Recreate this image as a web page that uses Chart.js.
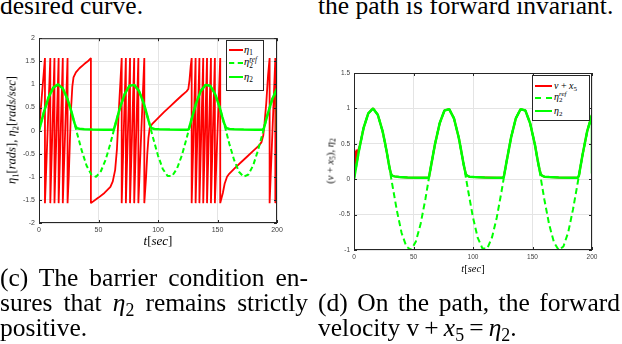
<!DOCTYPE html>
<html>
<head>
<meta charset="utf-8">
<title>eta plots</title>
<script src="https://cdn.jsdelivr.net/npm/chart.js@4.4.1/dist/chart.umd.min.js"></script>
<style>
    body { margin: 0; background: #fff; }
    #page { position: relative; width: 622px; height: 344px; overflow: hidden; font-family: "Liberation Serif", "Times New Roman", serif; color: #000; }
    #page canvas { position: absolute; }
    sub { font-size: 0.7em; vertical-align: -0.3em; line-height: 0; }
    .cap { position: absolute; font-size: 25.5px; line-height: 26px; white-space: nowrap; }
    .just { white-space: normal; text-align: justify; text-align-last: justify; }
    .lbl { position: absolute; white-space: nowrap; font-style: italic; transform: translate(-50%, -50%); }
    .lbl.rot { transform: translate(-50%, -50%) rotate(-90deg); }
    .up { font-style: normal; }
    .legend { position: absolute; background: #fff; border: 1px solid #262626; box-sizing: border-box; font-style: italic; }
    .legend .smp { position: absolute; height: 0; }
    .legend .txt { position: absolute; white-space: nowrap; line-height: 1; transform: translateY(-50%); }
    .ss { display: inline-block; vertical-align: middle; line-height: 0.85; font-size: 0.7em; }
    .ss span { display: block; }
</style>
</head>
<body>
<div id="page">
    <div class="cap" style="left:0;top:-7px">desired curve.</div>
    <div class="cap" style="left:318px;top:-7px">the path is forward invariant.</div>

    <canvas id="plotC" width="290" height="210" style="left:0;top:30px"></canvas>
    <canvas id="plotD" width="290" height="200" style="left:315px;top:65px"></canvas>

    <!-- axis titles -->
    <div class="lbl rot" style="left:12px;top:130px;font-size:12.5px">η<sub class="up">1</sub><span class="up">[</span>rads<span class="up">],</span> η<sub class="up">2</sub><span class="up">[</span>rads/sec<span class="up">]</span></div>
    <div class="lbl" style="left:158px;top:241px;font-size:13px">t<span class="up">[</span>sec<span class="up">]</span></div>
    <div class="lbl rot" style="left:330px;top:161px;font-size:10.5px"><span class="up">(</span>v <span class="up">+</span> x<sub class="up">5</sub><span class="up">),</span> η<sub class="up">2</sub></div>
    <div class="lbl" style="left:473px;top:268px;font-size:10.5px">t<span class="up">[</span>sec<span class="up">]</span></div>

    <!-- legends -->
    <div class="legend" style="left:226px;top:40px;width:38px;height:51px;font-size:10.5px">
        <div class="smp" style="left:2px;top:8px;width:14px;border-top:2px solid #ff0000"></div>
        <div class="txt" style="left:17px;top:9px">η<sub class="up">1</sub></div>
        <div class="smp" style="left:2px;top:21px;width:14px;border-top:2px dashed #00ff00"></div>
        <div class="txt" style="left:17px;top:22px">η<span class="ss"><span>ref</span><span class="up">2</span></span></div>
        <div class="smp" style="left:2px;top:35px;width:14px;border-top:2.5px solid #00ff00"></div>
        <div class="txt" style="left:17px;top:36px">η<sub class="up">2</sub></div>
    </div>
    <div class="legend" style="left:532px;top:75px;width:58px;height:46px;font-size:10px">
        <div class="smp" style="left:2px;top:9px;width:17px;border-top:2px solid #ff0000"></div>
        <div class="txt" style="left:21px;top:10px">v <span class="up">+</span> x<sub class="up">5</sub></div>
        <div class="smp" style="left:2px;top:21px;width:17px;border-top:2px dashed #00ff00"></div>
        <div class="txt" style="left:21px;top:22px">η<span class="ss"><span>ref</span><span class="up">2</span></span></div>
        <div class="smp" style="left:2px;top:34px;width:17px;border-top:2.5px solid #00ff00"></div>
        <div class="txt" style="left:21px;top:35px">η<sub class="up">2</sub></div>
    </div>

    <!-- captions -->
    <div class="cap just" style="left:0;top:265px;width:308px">(c) The barrier condition en-</div>
    <div class="cap just" style="left:0;top:290px;width:308px">sures that <i>η</i><sub>2</sub> remains strictly</div>
    <div class="cap" style="left:0;top:315px">positive.</div>
    <div class="cap just" style="left:318px;top:290px;width:302px">(d) On the path, the forward</div>
    <div class="cap" style="left:318px;top:315px">velocity v&thinsp;+&thinsp;<i>x</i><sub>5</sub>&thinsp;=&thinsp;<i>η</i><sub>2</sub>.</div>
</div>

<script>
// reference speed profile, sampled every 4 sec
var tRef = [0, 4, 8, 12, 16, 20, 24, 28, 32, 36, 40, 44, 48, 52, 56, 60, 64, 68, 72, 76, 80, 84, 88, 92, 96, 100,
    104, 108, 112, 116, 120, 124, 128, 132, 136, 140, 144, 148, 152, 156, 160, 164, 168, 172, 176, 180, 184, 188, 192, 196, 200];
var eta2Ref = [0, 0.39, 0.72, 0.93, 1.00, 0.91, 0.68, 0.34, -0.06, -0.44, -0.76, -0.95, -1.00, -0.88, -0.63, -0.28, 0.12,
    0.49, 0.79, 0.97, 0.99, 0.86, 0.59, 0.22, -0.17, -0.54, -0.83, -0.98, -0.98, -0.82, -0.54, -0.17, 0.23, 0.59, 0.86,
    0.99, 0.97, 0.79, 0.49, 0.11, -0.29, -0.64, -0.89, -1.00, -0.95, -0.75, -0.43, -0.05, 0.34, 0.68, 0.91];

// eta2 follows the reference but stays just above zero
var tEta2 = [0, 4, 8, 12, 16, 20, 24, 26, 28, 29, 30, 31, 32, 34, 38, 45, 55, 62, 63, 64, 68, 72, 76, 80, 84, 88,
    90, 92, 93, 94, 95, 97, 101, 110, 120, 125, 126, 128, 132, 136, 140, 144, 148, 152,
    154, 155, 156, 157, 158, 160, 164, 172, 182, 188, 189, 192, 196, 200];
var eta2 = [0, 0.39, 0.72, 0.93, 1.00, 0.91, 0.68, 0.52, 0.34, 0.24, 0.15, 0.08, 0.05, 0.04, 0.03, 0.025, 0.02, 0.02,
    0.03, 0.12, 0.49, 0.79, 0.97, 0.99, 0.86, 0.59, 0.41, 0.22, 0.14, 0.07, 0.05, 0.035, 0.03, 0.025, 0.02, 0.02,
    0.04, 0.23, 0.59, 0.86, 0.99, 0.97, 0.79, 0.49, 0.30, 0.21, 0.13, 0.07, 0.05, 0.035, 0.03, 0.025, 0.02, 0.02,
    0.05, 0.34, 0.68, 0.91];
// last sample of each plot drops at t = 200
var eta2DropC = [0];
var eta2DropD = [0.08];

// eta1 heading angle, wraps between -pi/2 and pi/2
var tEta1 = [0, 5, 5, 9.5, 9.5, 13, 13, 16.5, 16.5, 20, 20, 24, 24, 25, 26, 27, 28, 29, 31, 34, 38, 41, 43.6, 43.6,
    50, 55, 60, 62, 64, 65.5, 67, 68.5, 69.5, 69.5, 73, 73, 76.5, 76.5, 80, 80, 83.5, 83.5, 88.5, 88.5,
    90, 91, 92, 93, 95, 100, 105, 110, 115, 120, 124, 125.5, 126.5, 127.5, 128.3, 128.3, 131.6, 131.6, 134.8, 134.8,
    138, 138, 141.2, 141.2, 144.5, 144.5, 147.8, 147.8, 152.3, 152.3, 153.5, 154.5, 156, 158, 160, 165, 170, 175,
    180, 185, 187, 188.5, 189.5, 191, 192.5, 193.8, 193.8, 198.6, 198.6, 200];
var eta1 = [0, 1.57, -1.57, 1.57, -1.57, 1.57, -1.57, 1.57, -1.57, 1.57, -1.57, 1.57, -1.57, -1.0, -0.2, 0.5, 0.95,
    1.15, 1.26, 1.35, 1.44, 1.5, 1.57, -1.57,
    -1.45, -1.35, -1.22, -1.1, -0.85, -0.4, 0.4, 1.1, 1.57, -1.57, 1.57, -1.57, 1.57, -1.57, 1.57, -1.57, 1.57, -1.57,
    1.57, -1.57,
    -1.0, -0.5, -0.15, 0.05, 0.14, 0.27, 0.4, 0.52, 0.64, 0.76, 0.85, 0.9, 1.1, 1.4, 1.57, -1.57, 1.57, -1.57, 1.57, -1.57,
    1.57, -1.57, 1.57, -1.57, 1.57, -1.57, 1.57, -1.57, 1.57, -1.57, -1.45, -1.35, -1.15, -1.0, -0.93, -0.8, -0.68, -0.56,
    -0.44, -0.32, -0.25, -0.1, 0.15, 0.6, 1.2, 1.57, -1.57, 1.57, -1.57, -0.7];

// v + x5 only differs from eta2 in the first seconds
var tVx5 = [0, 0.7, 1.4, 2.2, 3, 3.8, 5];
var vx5 = [0.08, 0.4, 0.22, 0.42, 0.3, 0.42, 0.48];

// tick labels
var xTicks = [0, 50, 100, 150, 200];
var yTicksC = [-2, -1.5, -1, -0.5, 0, 0.5, 1, 1.5, 2];
var yTicksD = [-1, -0.5, 0, 0.5, 1, 1.5];

var figure = {
    _red: '#ff0000',
    _green: '#00ff00',
    _grid: '#e4e4e4',
    _axis: '#262626',

    init: function () {
        var ref = figure.points(tRef, eta2Ref);
        var e2 = figure.points(tEta2, eta2);

        //plot (c)
        figure.makeChart('plotC', yTicksC, 7, 17, [
            figure.line('η1', figure.points(tEta1, eta1), figure._red, 1.8, null, 3),
            figure.line('η2 ref', ref, figure._green, 2, [5, 3], 2),
            figure.line('η2', e2.concat([{ x: 200, y: eta2DropC[0] }]), figure._green, 2.5, null, 1)
        ]);

        //plot (d), red trace joins eta2 after the start
        var joined = figure.points(tVx5, vx5).concat(e2.filter(function (p) { return p.x >= 8; }));
        figure.makeChart('plotD', yTicksD, 6.5, 15, [
            figure.line('v + x5', joined, figure._red, 2, null, 3),
            figure.line('η2 ref', ref, figure._green, 2, [6, 3.5], 2),
            figure.line('η2', e2.concat([{ x: 200, y: eta2DropD[0] }]), figure._green, 2.5, null, 1)
        ]);
    },

    points: function (ts, ys) {
        return ts.map(function (t, i) {
            return { x: t, y: ys[i] };
        });
    },

    line: function (label, data, color, width, dash, order) {
        return {
            label: label,
            data: data,
            borderColor: color,
            borderWidth: width,
            borderDash: dash || [],
            borderJoinStyle: 'bevel',
            fill: false,
            pointRadius: 0,
            tension: 0,
            order: order
        };
    },

    //draws the closed axes box with inward tick marks
    boxPlugin: {
        id: 'box',
        afterDraw: function (chart) {
            var a = chart.chartArea;
            var ctx = chart.ctx;
            var xs = chart.scales.x;
            var ys = chart.scales.y;
            ctx.save();
            ctx.strokeStyle = figure._axis;
            ctx.lineWidth = 1;
            ctx.strokeRect(a.left + 0.5, a.top + 0.5, a.right - a.left - 1, a.bottom - a.top - 1);
            ctx.beginPath();
            xs.ticks.forEach(function (t) {
                var px = Math.round(xs.getPixelForValue(t.value)) + 0.5;
                ctx.moveTo(px, a.bottom); ctx.lineTo(px, a.bottom - 3);
                ctx.moveTo(px, a.top); ctx.lineTo(px, a.top + 3);
            });
            ys.ticks.forEach(function (t) {
                var py = Math.round(ys.getPixelForValue(t.value)) + 0.5;
                ctx.moveTo(a.left, py); ctx.lineTo(a.left + 3, py);
                ctx.moveTo(a.right, py); ctx.lineTo(a.right - 3, py);
            });
            ctx.stroke();
            ctx.restore();
        }
    },

    makeChart: function (id, yTicks, fontSize, xAxisHeight, datasets) {
        var tickFont = { family: '"Liberation Sans", Arial, sans-serif', size: fontSize };
        //matlab style labels: 2, 1.5, 1, 0.5 ...
        var plain = function (value) { return String(value); };
        var ctx = document.getElementById(id).getContext('2d');
        var config = {
            type: 'line',
            data: { datasets: datasets },
            options: {
                responsive: false,
                animation: false,
                events: [],
                layout: { padding: { left: 0, right: 13, top: 8, bottom: 0 } },
                plugins: { legend: { display: false }, tooltip: { enabled: false } },
                scales: {
                    x: {
                        type: 'linear',
                        min: xTicks[0],
                        max: xTicks[xTicks.length - 1],
                        afterBuildTicks: function (axis) {
                            axis.ticks = xTicks.map(function (v) { return { value: v }; });
                        },
                        afterFit: function (axis) { axis.height = xAxisHeight; },
                        grid: { color: figure._grid, drawTicks: false },
                        border: { display: false },
                        ticks: { font: tickFont, color: '#404040', padding: 3, maxRotation: 0, autoSkip: false, callback: plain }
                    },
                    y: {
                        type: 'linear',
                        min: yTicks[0],
                        max: yTicks[yTicks.length - 1],
                        afterBuildTicks: function (axis) {
                            axis.ticks = yTicks.map(function (v) { return { value: v }; });
                        },
                        afterFit: function (axis) { axis.width = 39; },
                        grid: { color: figure._grid, drawTicks: false },
                        border: { display: false },
                        ticks: { font: tickFont, color: '#404040', padding: 4, autoSkip: false, callback: plain }
                    }
                }
            },
            plugins: [figure.boxPlugin]
        };
        return new Chart(ctx, config);
    }
};

figure.init();
</script>
</body>
</html>
